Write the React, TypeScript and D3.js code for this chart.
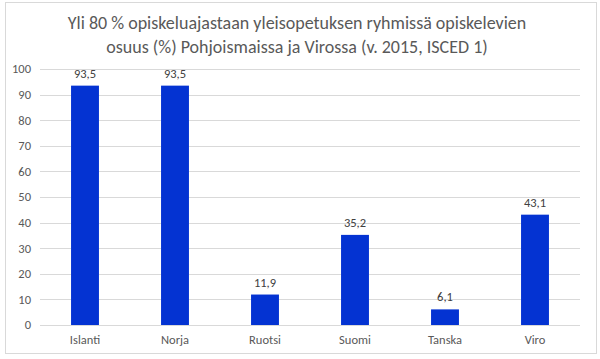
import React from 'react';
import * as d3 from 'd3';

// Yli 80 % opiskeluajastaan yleisopetuksen ryhmissä opiskelevien osuus
const countries = ["Islanti", "Norja", "Ruotsi", "Suomi", "Tanska", "Viro"];
const shares = [93.5, 93.5, 11.9, 35.2, 6.1, 43.1];
const yTicks = [0, 10, 20, 30, 40, 50, 60, 70, 80, 90, 100];
const titleLines = [
  "Yli 80 % opiskeluajastaan yleisopetuksen ryhmissä opiskelevien",
  "osuus (%) Pohjoismaissa ja Virossa (v. 2015, ISCED 1)"
];

export default function App() {
  const width = 600;
  const height = 359;
  const margin = { top: 69, right: 20, bottom: 34, left: 40 };
  const font = "Carlito, Calibri, Lato, sans-serif";

  const x = d3.scaleBand()
    .domain(countries)
    .range([margin.left, width - margin.right])
    .paddingInner(0.69)
    .paddingOuter(0.345);

  const y = d3.scaleLinear()
    .domain([0, 100])
    .range([height - margin.bottom, margin.top]);

  const fmt = (v: number) => d3.format(".1f")(v).replace(".", ",");

  return (
    <div style={{ position: 'absolute', left: 0, top: 0 }}>
      <svg width={width} height={height} style={{ display: 'block', fontFamily: font }}>
        <rect x={0} y={0} width={width} height={height} fill="#fff" />
        <rect x={5.5} y={2.5} width={591} height={351} fill="#fff" stroke="#d9d9d9" />
        {titleLines.map((t, i) => (
          <text key={i} x={297} y={29 + i * 24} textAnchor="middle" fontSize={18} fill="#595959">{t}</text>
        ))}
        {yTicks.map(t => (
          <g key={t}>
            <line x1={margin.left} x2={width - margin.right} y1={Math.round(y(t)) + 0.5} y2={Math.round(y(t)) + 0.5}
              stroke="#d9d9d9" strokeWidth={1} />
            <text x={31} y={y(t)} dy="0.35em" textAnchor="end" fontSize={12.5} fill="#595959">{t}</text>
          </g>
        ))}
        {countries.map((c, i) => (
          <g key={c}>
            <rect x={x(c)} y={y(shares[i])} width={x.bandwidth()} height={y(0) - y(shares[i])} fill="#0433d2" />
            <text x={(x(c) as number) + x.bandwidth() / 2} y={y(shares[i]) - 8} textAnchor="middle" fontSize={12.5} fill="#404040">
              {fmt(shares[i])}
            </text>
            <text x={(x(c) as number) + x.bandwidth() / 2} y={y(0) + 19} textAnchor="middle" fontSize={12.5} fill="#595959">
              {c}
            </text>
          </g>
        ))}
      </svg>
    </div>
  );
}
